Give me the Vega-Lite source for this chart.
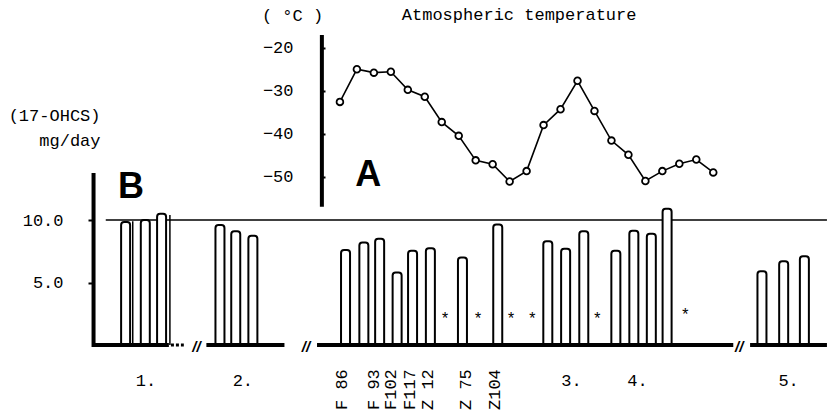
{
  "$schema": "https://vega.github.io/schema/vega-lite/v6.json",
  "width": 744,
  "height": 412,
  "autosize": {"type": "none"},
  "padding": {"left": 88, "top": 0, "right": 0, "bottom": 0},
  "background": "white",
  "datasets": {
    "temperature": [
      {"day": 1, "t": -32.6}, {"day": 2, "t": -25.0}, {"day": 3, "t": -25.8}, {"day": 4, "t": -25.6},
      {"day": 5, "t": -29.8}, {"day": 6, "t": -31.4}, {"day": 7, "t": -37.3}, {"day": 8, "t": -40.5},
      {"day": 9, "t": -46.2}, {"day": 10, "t": -47.1}, {"day": 11, "t": -51.1}, {"day": 12, "t": -48.7},
      {"day": 13, "t": -38.0}, {"day": 14, "t": -34.3}, {"day": 15, "t": -27.7}, {"day": 16, "t": -34.7},
      {"day": 17, "t": -41.6}, {"day": 18, "t": -44.9}, {"day": 19, "t": -51.0}, {"day": 20, "t": -48.7},
      {"day": 21, "t": -47.0}, {"day": 22, "t": -46.0}, {"day": 23, "t": -49.0}
    ],
    "bars": [
      {"pos": -11.63, "v": 9.85, "group": "1"}, {"pos": -10.47, "v": 10.0, "group": "1"}, {"pos": -9.51, "v": 10.5, "group": "1"},
      {"pos": -6.07, "v": 9.6, "group": "2"}, {"pos": -5.14, "v": 9.1, "group": "2"}, {"pos": -4.13, "v": 8.75, "group": "2"},
      {"pos": 1.33, "v": 7.6, "group": "3"}, {"pos": 2.41, "v": 8.2, "group": "3"}, {"pos": 3.34, "v": 8.5, "group": "3"},
      {"pos": 4.37, "v": 5.8, "group": "3"}, {"pos": 5.28, "v": 7.55, "group": "3"}, {"pos": 6.33, "v": 7.75, "group": "3"},
      {"pos": 8.22, "v": 7.0, "group": "3"}, {"pos": 10.3, "v": 9.65, "group": "3"}, {"pos": 13.25, "v": 8.3, "group": "3"},
      {"pos": 14.3, "v": 7.7, "group": "3"}, {"pos": 15.37, "v": 9.1, "group": "3"},
      {"pos": 17.26, "v": 7.55, "group": "4"}, {"pos": 18.32, "v": 9.15, "group": "4"}, {"pos": 19.35, "v": 8.9, "group": "4"}, {"pos": 20.28, "v": 10.9, "group": "4"},
      {"pos": 25.87, "v": 5.9, "group": "5"}, {"pos": 27.15, "v": 6.7, "group": "5"}, {"pos": 28.37, "v": 7.1, "group": "5"}
    ],
    "extraLines": [{"pos": -11.21, "v": 9.9}, {"pos": -9.02, "v": 10.4}],
    "baselines": [
      {"pos": -13.55, "pos2": -9.08}, {"pos": -6.87, "pos2": -2.27}, {"pos": -0.35, "pos2": 24.18}, {"pos": 25.17, "pos2": 29.7}
    ],
    "dotted": [{"pos": -8.96, "pos2": -8.2}],
    "refLine": [{"pos": -12.8, "pos2": 29.7, "v": 10}],
    "ohcsAxisLine": [{"pos": -13.52, "v": -0.15, "v2": 13.76}],
    "tempAxisLine": [{"pos": -0.064, "t": -17.05, "t2": -57.0}],
    "breaks": [{"pos": -7.45, "v": -0.15}, {"pos": -1.0, "v": -0.15}, {"pos": 24.53, "v": -0.15}],
    "stars": [{"pos": 7.2, "v": 2.24}, {"pos": 9.14, "v": 2.24}, {"pos": 11.08, "v": 2.24}, {"pos": 12.34, "v": 2.24}, {"pos": 16.16, "v": 2.24}, {"pos": 21.35, "v": 2.6}],
    "samples": [
      {"pos": 1.1, "v": -5.2, "label": "F 86"}, {"pos": 3.0, "v": -5.2, "label": "F 93"}, {"pos": 4.0, "v": -5.2, "label": "F102"},
      {"pos": 5.13, "v": -5.2, "label": "F117"}, {"pos": 6.17, "v": -5.2, "label": "Z 12"}, {"pos": 8.42, "v": -5.2, "label": "Z 75"},
      {"pos": 10.11, "v": -5.2, "label": "Z104"}
    ],
    "groups": [
      {"pos": -10.43, "v": -2.88, "label": "1."}, {"pos": -4.72, "v": -2.88, "label": "2."}, {"pos": 14.65, "v": -2.88, "label": "3."},
      {"pos": 18.54, "v": -2.88, "label": "4."}, {"pos": 27.44, "v": -2.88, "label": "5."}
    ],
    "panels": [{"pos": 2.67, "v": 13.8, "label": "A"}, {"pos": -11.31, "v": 12.8, "label": "B"}],
    "heading": [{"pos": 11.56, "v": 26.4, "label": "Atmospheric temperature"}]
  },
  "resolve": {"scale": {"y": "independent"}, "axis": {"y": "independent"}},
  "layer": [
    {
      "data": {"name": "refLine"},
      "mark": {"type": "rule", "color": "black", "strokeWidth": 1.3},
      "encoding": {
        "x": {"field": "pos", "type": "quantitative", "scale": {"domain": [-13.552, 29.703], "nice": false, "zero": false}, "axis": null},
        "x2": {"field": "pos2"},
        "y": {"field": "v", "type": "quantitative", "scale": {"domain": [-5.36, 27.6], "nice": false, "zero": false}, "axis": null}
      }
    },
    {
      "data": {"name": "extraLines"},
      "mark": {"type": "rule", "color": "black", "strokeWidth": 1.5},
      "encoding": {
        "x": {"field": "pos", "type": "quantitative", "scale": {"domain": [-13.552, 29.703], "nice": false, "zero": false}, "axis": null},
        "y": {"field": "v", "type": "quantitative", "scale": {"domain": [-5.36, 27.6], "nice": false, "zero": false}, "axis": null},
        "y2": {"datum": 0}
      }
    },
    {
      "data": {"name": "bars"},
      "mark": {"type": "bar", "size": 9, "fill": "white", "stroke": "black", "strokeWidth": 2, "cornerRadiusTopLeft": 3, "cornerRadiusTopRight": 3},
      "encoding": {
        "x": {"field": "pos", "type": "quantitative", "scale": {"domain": [-13.552, 29.703], "nice": false, "zero": false}, "axis": null},
        "y": {"field": "v", "type": "quantitative", "scale": {"domain": [-5.36, 27.6], "nice": false, "zero": false},
          "axis": {"orient": "left", "values": [5, 10], "format": ".1f", "domain": false, "grid": false, "ticks": true, "tickSize": -6, "tickWidth": 2, "tickColor": "black", "labelPadding": 31,
            "title": ["(17-OHCS)", "mg/day"], "titleAngle": 0, "titleAlign": "right", "titleBaseline": "middle", "titleX": 12, "titleY": 115, "titleLineHeight": 25}},
        "y2": {"datum": 0}
      }
    },
    {
      "data": {"name": "baselines"},
      "mark": {"type": "rule", "color": "black", "strokeWidth": 4},
      "encoding": {
        "x": {"field": "pos", "type": "quantitative", "scale": {"domain": [-13.552, 29.703], "nice": false, "zero": false}, "axis": null},
        "x2": {"field": "pos2"},
        "y": {"datum": 0, "type": "quantitative", "scale": {"domain": [-5.36, 27.6], "nice": false, "zero": false}, "axis": null}
      }
    },
    {
      "data": {"name": "dotted"},
      "mark": {"type": "rule", "color": "black", "strokeWidth": 3, "strokeDash": [3, 2]},
      "encoding": {
        "x": {"field": "pos", "type": "quantitative", "scale": {"domain": [-13.552, 29.703], "nice": false, "zero": false}, "axis": null},
        "x2": {"field": "pos2"},
        "y": {"datum": 0, "type": "quantitative", "scale": {"domain": [-5.36, 27.6], "nice": false, "zero": false}, "axis": null}
      }
    },
    {
      "data": {"name": "ohcsAxisLine"},
      "mark": {"type": "rule", "color": "black", "strokeWidth": 4},
      "encoding": {
        "x": {"field": "pos", "type": "quantitative", "scale": {"domain": [-13.552, 29.703], "nice": false, "zero": false}, "axis": null},
        "y": {"field": "v", "type": "quantitative", "scale": {"domain": [-5.36, 27.6], "nice": false, "zero": false}, "axis": null},
        "y2": {"field": "v2"}
      }
    },
    {
      "data": {"name": "breaks"},
      "mark": {"type": "text", "text": "//", "font": "Liberation Sans", "fontStyle": "italic", "fontWeight": "bold", "fontSize": 15, "baseline": "middle", "align": "center", "color": "black"},
      "encoding": {
        "x": {"field": "pos", "type": "quantitative", "scale": {"domain": [-13.552, 29.703], "nice": false, "zero": false}, "axis": null},
        "y": {"field": "v", "type": "quantitative", "scale": {"domain": [-5.36, 27.6], "nice": false, "zero": false}, "axis": null}
      }
    },
    {
      "data": {"name": "stars"},
      "mark": {"type": "text", "text": "*", "font": "Liberation Mono", "fontSize": 16, "baseline": "middle", "align": "center", "dy": 2, "color": "black"},
      "encoding": {
        "x": {"field": "pos", "type": "quantitative", "scale": {"domain": [-13.552, 29.703], "nice": false, "zero": false}, "axis": null},
        "y": {"field": "v", "type": "quantitative", "scale": {"domain": [-5.36, 27.6], "nice": false, "zero": false}, "axis": null}
      }
    },
    {
      "data": {"name": "samples"},
      "mark": {"type": "text", "font": "Liberation Mono", "fontSize": 17, "angle": 270, "align": "left", "baseline": "middle", "color": "black"},
      "encoding": {
        "x": {"field": "pos", "type": "quantitative", "scale": {"domain": [-13.552, 29.703], "nice": false, "zero": false}, "axis": null},
        "y": {"field": "v", "type": "quantitative", "scale": {"domain": [-5.36, 27.6], "nice": false, "zero": false}, "axis": null},
        "text": {"field": "label"}
      }
    },
    {
      "data": {"name": "groups"},
      "mark": {"type": "text", "font": "Liberation Mono", "fontSize": 17, "align": "center", "baseline": "middle", "color": "black"},
      "encoding": {
        "x": {"field": "pos", "type": "quantitative", "scale": {"domain": [-13.552, 29.703], "nice": false, "zero": false}, "axis": null},
        "y": {"field": "v", "type": "quantitative", "scale": {"domain": [-5.36, 27.6], "nice": false, "zero": false}, "axis": null},
        "text": {"field": "label"}
      }
    },
    {
      "data": {"name": "heading"},
      "mark": {"type": "text", "font": "Liberation Mono", "fontSize": 17, "align": "center", "baseline": "middle", "color": "black"},
      "encoding": {
        "x": {"field": "pos", "type": "quantitative", "scale": {"domain": [-13.552, 29.703], "nice": false, "zero": false}, "axis": null},
        "y": {"field": "v", "type": "quantitative", "scale": {"domain": [-5.36, 27.6], "nice": false, "zero": false}, "axis": null},
        "text": {"field": "label"}
      }
    },
    {
      "data": {"name": "panels"},
      "mark": {"type": "text", "font": "Liberation Sans", "fontWeight": "bold", "fontSize": 36, "align": "center", "baseline": "middle", "dy": 2, "color": "black"},
      "encoding": {
        "x": {"field": "pos", "type": "quantitative", "scale": {"domain": [-13.552, 29.703], "nice": false, "zero": false}, "axis": null},
        "y": {"field": "v", "type": "quantitative", "scale": {"domain": [-5.36, 27.6], "nice": false, "zero": false}, "axis": null},
        "text": {"field": "label"}
      }
    },
    {
      "data": {"name": "tempAxisLine"},
      "mark": {"type": "rule", "color": "black", "strokeWidth": 4},
      "encoding": {
        "x": {"field": "pos", "type": "quantitative", "scale": {"domain": [-13.552, 29.703], "nice": false, "zero": false}, "axis": null},
        "y": {"field": "t", "type": "quantitative", "scale": {"domain": [-104.72, -8.907], "nice": false, "zero": false}, "axis": null},
        "y2": {"field": "t2"}
      }
    },
    {
      "data": {"name": "temperature"},
      "mark": {"type": "line", "color": "black", "strokeWidth": 1.6},
      "encoding": {
        "x": {"field": "day", "type": "quantitative", "scale": {"domain": [-13.552, 29.703], "nice": false, "zero": false}, "axis": null},
        "y": {"field": "t", "type": "quantitative", "scale": {"domain": [-104.72, -8.907], "nice": false, "zero": false},
          "axis": {"orient": "left", "offset": -232, "values": [-20, -30, -40, -50], "format": "d", "domain": false, "grid": false, "ticks": true, "tickSize": -5, "tickWidth": 2, "tickColor": "black", "labelPadding": 32,
            "title": "( °C )", "titleAngle": 0, "titleAlign": "center", "titleBaseline": "middle", "titleX": -28, "titleY": 15}}
      }
    },
    {
      "data": {"name": "temperature"},
      "mark": {"type": "point", "shape": "circle", "filled": true, "fill": "white", "stroke": "black", "strokeWidth": 1.8, "size": 45, "opacity": 1},
      "encoding": {
        "x": {"field": "day", "type": "quantitative", "scale": {"domain": [-13.552, 29.703], "nice": false, "zero": false}, "axis": null},
        "y": {"field": "t", "type": "quantitative", "scale": {"domain": [-104.72, -8.907], "nice": false, "zero": false}, "axis": null}
      }
    }
  ],
  "config": {
    "view": {"stroke": null},
    "font": "Liberation Mono",
    "axis": {"labelFont": "Liberation Mono", "labelFontSize": 17, "labelColor": "black", "titleFont": "Liberation Mono", "titleFontSize": 17, "titleFontWeight": "normal", "titleColor": "black", "grid": false}
  }
}
